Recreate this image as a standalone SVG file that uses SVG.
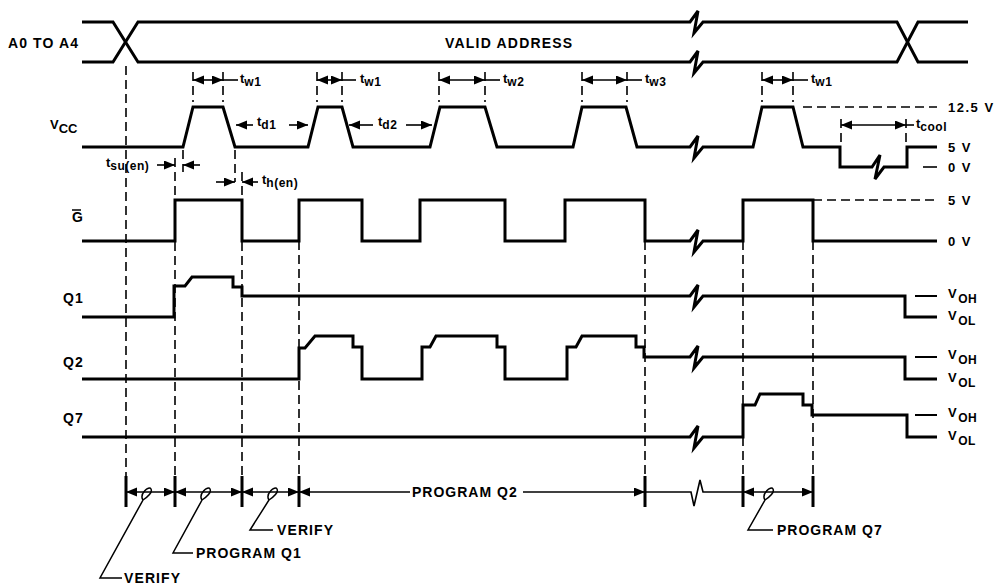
<svg xmlns="http://www.w3.org/2000/svg" width="1003" height="587" viewBox="0 0 1003 587">
<style>
.sig{fill:none;stroke:#000;stroke-width:3;stroke-linejoin:miter}
.dash{fill:none;stroke:#000;stroke-width:1.6;stroke-dasharray:9 5}
.dim{fill:none;stroke:#000;stroke-width:1.6}
.tick{fill:none;stroke:#000;stroke-width:3}
.thin{fill:none;stroke:#000;stroke-width:1.5}
.lbl{font-family:"Liberation Sans",Arial,sans-serif;font-weight:bold;font-size:14px;letter-spacing:1.1px;fill:#000}
.rl{font-family:"Liberation Sans",Arial,sans-serif;font-weight:bold;font-size:13px;letter-spacing:1.5px;fill:#000}
.t{font-family:"Liberation Sans",Arial,sans-serif;font-weight:bold;font-size:13px;fill:#000}
.sub{font-size:12px;letter-spacing:0.5px}
</style>
<defs>
<marker id="ah" markerUnits="userSpaceOnUse" markerWidth="12" markerHeight="10" refX="11" refY="4.5" orient="auto-start-reverse">
<path d="M0,0 L11,4.5 L0,9 z" fill="#000"/>
</marker>
</defs>
<rect width="1003" height="587" fill="#fff"/>

<!-- left labels -->
<g id="labels-left">
<text class="lbl" x="8" y="48">A0 TO A4</text>
<text class="t" x="50" y="129" style="font-size:13px">V<tspan dy="4" style="font-size:13px">CC</tspan></text>
<text class="lbl" x="72" y="222" style="letter-spacing:0">G</text>
<line x1="72" y1="210" x2="81" y2="210" stroke="#000" stroke-width="1.5"/>
<text class="lbl" x="63" y="303" style="letter-spacing:1px">Q1</text>
<text class="lbl" x="63" y="367" style="letter-spacing:1px">Q2</text>
<text class="lbl" x="63" y="423" style="letter-spacing:1px">Q7</text>
</g>

<!-- signals -->
<g id="sig-a0">
<path class="sig" d="M82,22 H113 L138,62 H690 L698,51 L694,73 L703,62 H897 L918,22 H968"/>
<path class="sig" d="M82,62 H113 L138,22 H690 L698,11 L694,33 L703,22 H897 L918,62 H968"/>
<text class="lbl" x="445" y="48" style="letter-spacing:1.2px">VALID ADDRESS</text>
</g>
<g id="sig-vcc">
<path class="sig" d="M82,147 H183 L193,107 H223 L235,147 H308 L318,107 H342 L353,147 H430 L440,107 H485 L497,147 H573 L582,107 H626 L637,147 H690 L698,136 L694,158 L703,147 H753 L762,107 H793 L803,147 H840 V167 H872 L880,155 L875,179 L884,167 H907 V147 H937"/>
<path class="dash" d="M803,107 H937"/>
<path class="dim" d="M923,167 H937"/>
</g>
<g id="sig-g">
<path class="sig" d="M82,241 H175 V200 H242 V241 H299 V200 H362 V241 H420 V200 H505 V241 H565 V200 H645 V241 H690 L698,230 L694,252 L703,241 H743 V200 H813 V241 H937"/>
<path class="dash" d="M813,200 H937"/>
</g>
<g id="sig-q1">
<path class="sig" d="M82,317 H174 V286 H185 L192,277 H233 V287 H242 V296 H690 L698,285 L694,307 L703,296 H905 V317 H937"/>
<path class="tick" style="stroke-width:2" d="M915,296 H937"/>
</g>
<g id="sig-q2">
<path class="sig" d="M82,379 H299 V348 H305 L315,336 H353 V347 H362 V379 H422 V347 H430 L436,336 H497 V347 H505 V379 H567 V347 H576 L582,336 H636 V347 H644 V357 H690 L698,346 L694,368 L703,357 H905 V379 H937"/>
<path class="tick" style="stroke-width:2" d="M915,357 H937"/>
</g>
<g id="sig-q7">
<path class="sig" d="M82,437 H690 L698,426 L694,448 L703,437 H743 V405 H755 L760,394 H803 V405 H812 V415 H907 V437 H937"/>
<path class="tick" style="stroke-width:2" d="M915,415 H937"/>
</g>

<!-- right level labels -->
<g id="labels-right">
<text class="rl" x="948" y="112">12.5 V</text>
<text class="rl" x="948" y="152">5 V</text>
<text class="rl" x="948" y="172">0 V</text>
<text class="rl" x="948" y="205">5 V</text>
<text class="rl" x="948" y="246">0 V</text>
<text class="rl" x="948" y="298">V<tspan dy="5" style="font-size:12px;letter-spacing:0.5px">OH</tspan></text>
<text class="rl" x="948" y="320">V<tspan dy="5" style="font-size:12px;letter-spacing:0.5px">OL</tspan></text>
<text class="rl" x="948" y="359">V<tspan dy="5" style="font-size:12px;letter-spacing:0.5px">OH</tspan></text>
<text class="rl" x="948" y="382">V<tspan dy="5" style="font-size:12px;letter-spacing:0.5px">OL</tspan></text>
<text class="rl" x="948" y="417">V<tspan dy="5" style="font-size:12px;letter-spacing:0.5px">OH</tspan></text>
<text class="rl" x="948" y="440">V<tspan dy="5" style="font-size:12px;letter-spacing:0.5px">OL</tspan></text>
</g>

<!-- connectors: dashed reference lines and dimension arrows -->
<g id="connectors">
<path class="dash" d="M126,66 V476"/>
<path class="dash" d="M175,158 V476"/>
<path class="dash" d="M183,150 V172"/>
<path class="dash" d="M235,150 V182"/>
<path class="dash" d="M242,172 V476"/>
<path class="dash" d="M299,241 V476"/>
<path class="dash" d="M645,241 V476"/>
<path class="dash" d="M743,241 V476"/>
<path class="dash" d="M813,241 V476"/>

<!-- tw ticks -->
<path class="dash" d="M193,72 V102 M223,72 V102 M317,72 V102 M342,72 V102 M439,72 V102 M485,72 V102 M582,72 V102 M627,72 V102 M762,72 V102 M793,72 V102 M841,119 V146 M906,119 V146"/>
<path class="dim" marker-start="url(#ah)" marker-end="url(#ah)" d="M193,80 H223"/>
<path class="dim" d="M223,80 H238"/>
<path class="dim" marker-start="url(#ah)" marker-end="url(#ah)" d="M317,80 H342"/>
<path class="dim" d="M342,80 H356"/>
<path class="dim" marker-start="url(#ah)" marker-end="url(#ah)" d="M439,80 H485"/>
<path class="dim" d="M485,80 H500"/>
<path class="dim" marker-start="url(#ah)" marker-end="url(#ah)" d="M582,80 H627"/>
<path class="dim" d="M627,80 H642"/>
<path class="dim" marker-start="url(#ah)" marker-end="url(#ah)" d="M762,80 H793"/>
<path class="dim" d="M793,80 H808"/>
<path class="dim" marker-start="url(#ah)" marker-end="url(#ah)" d="M841,125 H906"/>
<path class="dim" d="M906,125 H914"/>

<!-- td arrows -->
<path class="dim" marker-start="url(#ah)" d="M236,125 H253"/>
<path class="dim" marker-end="url(#ah)" d="M289,125 H308"/>
<path class="dim" marker-start="url(#ah)" d="M349,125 H373"/>
<path class="dim" marker-end="url(#ah)" d="M406,125 H432"/>

<!-- tsu / th -->
<path class="dim" marker-end="url(#ah)" d="M157,165 H175"/>
<path class="dim" marker-end="url(#ah)" d="M200,165 H183"/>
<path class="dim" marker-end="url(#ah)" d="M216,182 H235"/>
<path class="dim" marker-end="url(#ah)" d="M258,182 H242"/>

<!-- bottom timeline -->
<path class="tick" d="M126,476 V507 M175,476 V507 M242,476 V507 M299,476 V507 M645,476 V507 M743,476 V507 M813,476 V507"/>
<path class="dim" marker-start="url(#ah)" marker-end="url(#ah)" d="M126,492 H175"/>
<path class="dim" marker-start="url(#ah)" marker-end="url(#ah)" d="M175,492 H242"/>
<path class="dim" marker-start="url(#ah)" marker-end="url(#ah)" d="M242,492 H299"/>
<path class="dim" marker-start="url(#ah)" d="M299,492 H410"/>
<path class="dim" marker-end="url(#ah)" d="M523,492 H645"/>
<path class="dim" d="M645,492 H691 L694,506 L700,480 L703,492 H743"/>
<path class="dim" marker-start="url(#ah)" marker-end="url(#ah)" d="M743,492 H813"/>

<!-- leaders with loops -->
<path class="thin" d="M122,578 H100 L143,500 C139,494 149,485 151,489 C153,493 146,498 143,500"/>
<path class="thin" d="M193,553 H173 L202,500 C198,494 208,485 210,489 C212,493 205,498 202,500"/>
<path class="thin" d="M273,530 H250 L269,500 C265,494 275,485 277,489 C279,493 272,498 269,500"/>
<path class="thin" d="M773,530 H748 L765,500 C761,494 771,485 773,489 C775,493 768,498 765,500"/>
</g>

<!-- timing labels -->
<g id="timing-labels">
<text class="t" x="240" y="83">t<tspan class="sub" dy="3">w1</tspan></text>
<text class="t" x="360" y="83">t<tspan class="sub" dy="3">w1</tspan></text>
<text class="t" x="503" y="83">t<tspan class="sub" dy="3">w2</tspan></text>
<text class="t" x="645" y="83">t<tspan class="sub" dy="3">w3</tspan></text>
<text class="t" x="811" y="83">t<tspan class="sub" dy="3">w1</tspan></text>
<text class="t" x="257" y="126">t<tspan class="sub" dy="3">d1</tspan></text>
<text class="t" x="378" y="126">t<tspan class="sub" dy="3">d2</tspan></text>
<text class="t" x="916" y="128">t<tspan class="sub" dy="3">cool</tspan></text>
<text class="t" x="106" y="167">t<tspan class="sub" dy="3">su(en)</tspan></text>
<text class="t" x="262" y="184">t<tspan class="sub" dy="3">h(en)</tspan></text>
</g>

<!-- bottom labels -->
<g id="labels-bottom">
<text class="lbl" x="412" y="497" style="letter-spacing:1px">PROGRAM Q2</text>
<text class="lbl" x="124" y="583">VERIFY</text>
<text class="lbl" x="196" y="558" style="letter-spacing:1px">PROGRAM Q1</text>
<text class="lbl" x="277" y="535">VERIFY</text>
<text class="lbl" x="777" y="535" style="letter-spacing:1px">PROGRAM Q7</text>
</g>
</svg>
